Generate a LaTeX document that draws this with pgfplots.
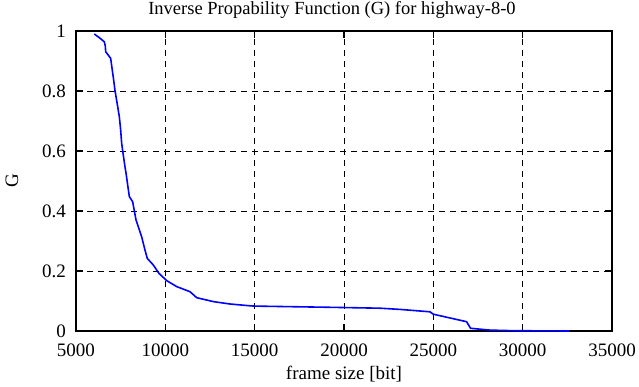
\documentclass[border=0pt]{standalone}
\usepackage{pgfplots}
\pgfplotsset{compat=1.18}
\usepackage{fontspec}
\setmainfont{Liberation Serif}
\begin{document}
\begin{tikzpicture}
\begin{axis}[
  scale only axis,
  width=536bp, height=300bp,
  xmin=5000, xmax=35000, ymin=0, ymax=1,
  xtick={5000,10000,...,35000},
  ytick={0,0.2,0.4,0.6,0.8,1},
  yticklabels={0,0.2,0.4,0.6,0.8,1},
  scaled x ticks=false,
  x tick label style={/pgf/number format/1000 sep={}},
  /pgf/number format/assume math mode=true,
  tick label style={font=\fontsize{19bp}{21bp}\selectfont, inner sep=1bp},
  xticklabel style={yshift=-12bp},
  yticklabel style={xshift=-9bp},
  label style={font=\fontsize{19bp}{21bp}\selectfont},
  every axis title shift=0pt,
  title style={font=\fontsize{18.5bp}{21bp}\selectfont, at={(axis description cs:0.5,1)}, anchor=center, yshift=21bp, xshift=-12bp},
  title={Inverse Propability Function (G) for highway-8-0},
  xlabel={frame size [bit]},
  ylabel={G},
  xlabel style={at={(axis description cs:0.5,0)}, anchor=center, yshift=-43bp},
  ylabel style={at={(axis description cs:0,0.5)}, anchor=center, yshift=64bp},
  grid=major,
  major grid style={black, line width=0.7pt, dash pattern=on 6bp off 5bp},
  axis line style={line width=1.4pt},
  tick style={black, line width=1.2pt},
  major tick length=7bp,
  tick align=inside,
  xtick pos=both, ytick pos=both,
  xticklabel pos=lower, yticklabel pos=left,
  clip=false,
]
\addplot[blue, line width=1.6pt] coordinates {
(6024,0.990) (6300,0.978) (6585,0.964) (6640,0.950) (6660,0.931) (6940,0.909) (7030,0.870)
(7100,0.840) (7180,0.803) (7300,0.760) (7425,0.714) (7500,0.670) (7555,0.626) (7650,0.585)
(7740,0.548) (7800,0.526) (7985,0.448) (8170,0.431) (8360,0.370) (8675,0.314) (8860,0.270)
(8990,0.242) (9325,0.220) (9645,0.192) (10075,0.168) (10635,0.148) (11380,0.131) (11755,0.111)
(12685,0.098) (13618,0.090) (14735,0.084) (15017,0.083) (19213,0.079) (22011,0.076) (23130,0.072)
(24810,0.064) (24995,0.056) (26860,0.031) (27085,0.009) (28165,0.003) (29500,0.001) (32640,0.000)
};
\end{axis}
\pgfresetboundingbox
\path[use as bounding box] ([xshift=-76bp,yshift=-56bp]current axis.south west) rectangle ([xshift=27bp,yshift=31bp]current axis.north east);
\end{tikzpicture}
\end{document}
